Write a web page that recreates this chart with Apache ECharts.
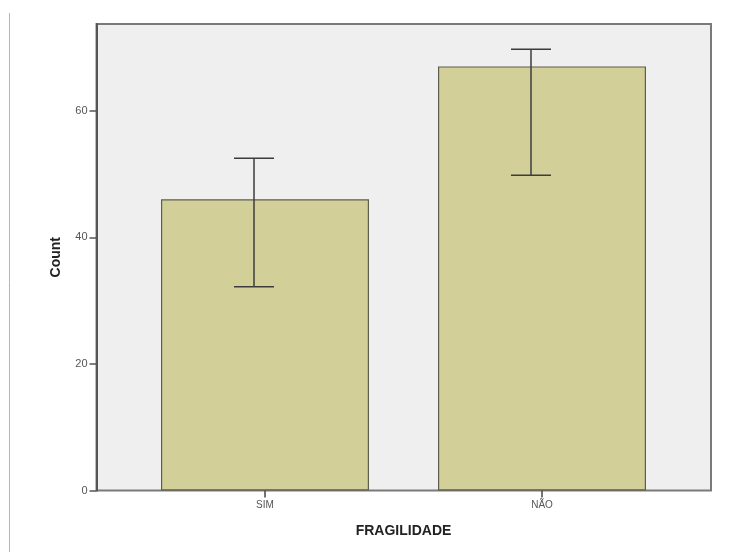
<!DOCTYPE html>
<html>
<head>
<meta charset="utf-8">
<script src="https://cdn.jsdelivr.net/npm/echarts@6/dist/echarts.min.js"></script>
<style>
  html, body { margin: 0; padding: 0; background: #ffffff; }
  #chart { width: 752px; height: 552px; }
</style>
</head>
<body>
<div id="chart"></div>
<script>
// Counts by frailty status, with error-bar limits
const categories = ['SIM', 'NÃO'];
const counts = [46, 67];
const errLow = [32.2, 49.8];
const errHigh = [52.5, 69.7];
const yTicks = [0, 20, 40, 60];

const yMax = 73.7;
const chart = echarts.init(document.getElementById('chart'), null, { renderer: 'canvas' });

const labelFont = 'Arial, "Liberation Sans", sans-serif';

chart.setOption({
  backgroundColor: '#ffffff',
  animation: false,
  graphic: [{
    type: 'line',
    shape: { x1: 9.5, y1: 13, x2: 9.5, y2: 552 },
    style: { stroke: '#b4b4b4', lineWidth: 1 },
    silent: true
  }],
  grid: [
    // plot frame with its value axis
    { left: 96.5, right: 41, top: 24, bottom: 61.5, show: true,
      backgroundColor: '#efefef', borderColor: '#7a7a7a', borderWidth: 2 },
    // grid that holds the bars
    { left: 126.5, right: 71.5, top: 24, bottom: 61.5 }
  ],
  xAxis: [
    { gridIndex: 0, type: 'value', show: false, min: 0, max: 1 },
    { gridIndex: 1, type: 'category', data: categories,
      axisLine: { show: false },
      axisTick: { show: true, alignWithLabel: true, length: 7, lineStyle: { color: '#444', width: 1.5 } },
      axisLabel: { color: '#555', fontSize: 10, fontFamily: labelFont, margin: 10 },
      name: 'FRAGILIDADE', nameLocation: 'middle', nameGap: 34,
      nameTextStyle: { color: '#222', fontSize: 14, fontWeight: 'bold', fontFamily: labelFont } }
  ],
  yAxis: [
    { gridIndex: 0, type: 'value', min: 0, max: yMax, interval: 20,
      axisLine: { show: true, lineStyle: { color: '#555', width: 2 } },
      axisTick: { show: true, length: 7, customValues: yTicks, lineStyle: { color: '#555', width: 1.5 } },
      axisLabel: { color: '#555', fontSize: 11, fontFamily: labelFont, margin: 9, customValues: yTicks },
      splitLine: { show: false },
      name: 'Count', nameLocation: 'middle', nameGap: 33, nameRotate: 90,
      nameTextStyle: { color: '#222', fontSize: 14, fontWeight: 'bold', fontFamily: labelFont } },
    { gridIndex: 1, type: 'value', min: 0, max: yMax, show: false, splitLine: { show: false } }
  ],
  series: [
    {
      type: 'bar', xAxisIndex: 1, yAxisIndex: 1,
      data: counts, barWidth: 208,
      itemStyle: { color: '#d3cf99', borderColor: '#5e5e4e', borderWidth: 1.2 }
    },
    {
      type: 'custom', xAxisIndex: 1, yAxisIndex: 1,
      data: categories.map((c, i) => [i, errLow[i], errHigh[i]]),
      renderItem: function (params, api) {
        const shift = -11;
        const lo = api.coord([api.value(0), api.value(1)]);
        const hi = api.coord([api.value(0), api.value(2)]);
        const x = lo[0] + shift;
        const half = 20;
        const st = { stroke: '#3c3c3c', lineWidth: 1.5 };
        return {
          type: 'group',
          children: [
            { type: 'line', shape: { x1: x, y1: hi[1], x2: x, y2: lo[1] }, style: st },
            { type: 'line', shape: { x1: x - half, y1: hi[1], x2: x + half, y2: hi[1] }, style: st },
            { type: 'line', shape: { x1: x - half, y1: lo[1], x2: x + half, y2: lo[1] }, style: st }
          ]
        };
      },
      z: 5
    }
  ]
});
</script>
</body>
</html>
